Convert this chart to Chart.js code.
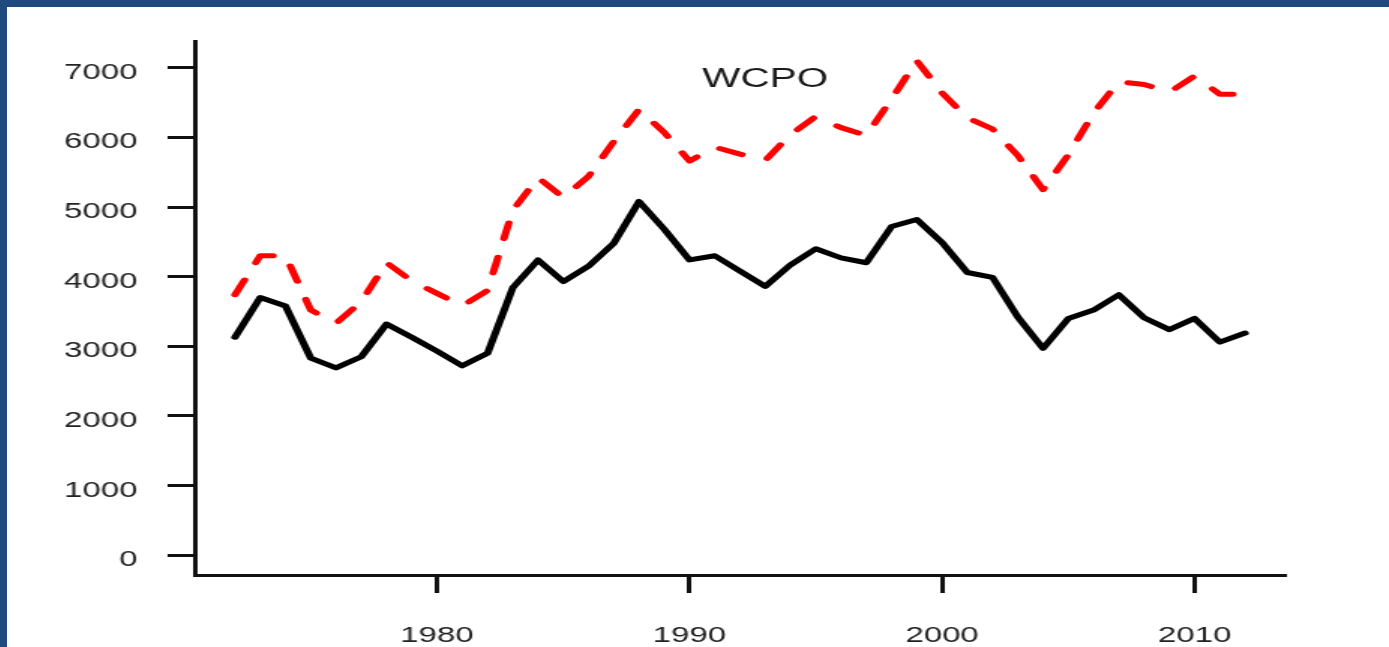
<!DOCTYPE html>
<html>
<head>
<meta charset="utf-8">
<title>WCPO</title>
<script src="https://cdn.jsdelivr.net/npm/chart.js@4.4.1/dist/chart.umd.min.js"></script>
<style>
    html, body { margin: 0; padding: 0; }
    body { width: 1389px; height: 647px; background: #204a7e; overflow: hidden; position: relative; }
    #wrap { position: absolute; left: 7px; top: 7px; width: 1382px; height: 640px; background: #fff; }
    #js--chart { display: block; }
</style>
</head>
<body>
<!-- the picture is stretched sideways, so the canvas is drawn narrow and widened by its inline style -->
<div id="wrap"><canvas id="js--chart" width="921" height="640" style="width:1382px;height:640px;"></canvas></div>
<script>
const years = [
    1972, 1973, 1974, 1975, 1976, 1977, 1978, 1979, 1980, 1981,
    1982, 1983, 1984, 1985, 1986, 1987, 1988, 1989, 1990, 1991,
    1992, 1993, 1994, 1995, 1996, 1997, 1998, 1999, 2000, 2001,
    2002, 2003, 2004, 2005, 2006, 2007, 2008, 2009, 2010, 2011,
    2012
];

// black solid line
const solidLine = [
    3130, 3700, 3580, 2830, 2690, 2850, 3320, 3130, 2930, 2720,
    2900, 3840, 4240, 3930, 4150, 4480, 5080, 4680, 4240, 4300,
    4080, 3860, 4170, 4400, 4270, 4200, 4720, 4820, 4490, 4060,
    3990, 3420, 2970, 3400, 3520, 3740, 3410, 3240, 3400, 3060,
    3190
];

// red dashed line
const dashedLine = [
    3740, 4300, 4300, 3520, 3330, 3640, 4200, 3940, 3760, 3580,
    3800, 4950, 5420, 5140, 5440, 5940, 6400, 6070, 5660, 5860,
    5760, 5670, 6040, 6300, 6140, 6030, 6550, 7100, 6640, 6280,
    6120, 5740, 5250, 5750, 6350, 6800, 6760, 6650, 6880, 6620,
    6620
];

const xTicks = [1980, 1990, 2000, 2010];
const yTicks = [0, 1000, 2000, 3000, 4000, 5000, 6000, 7000];
const panelLabel = "WCPO";

const fontFamily = "'Liberation Sans', Arial, sans-serif";

function toPoints(vals) {
    return vals.map((v, i) => ({ x: years[i], y: v }));
}

const data1 = {
    datasets: [
        {
            label: 'dashed',
            data: toPoints(dashedLine),
            borderColor: '#ff0000',
            borderWidth: 5,
            borderDash: [16, 19],
            borderCapStyle: 'round',
            borderJoinStyle: 'round',
            pointRadius: 0,
            tension: 0
        },
        {
            label: 'solid',
            data: toPoints(solidLine),
            borderColor: '#000000',
            borderWidth: 5,
            borderCapStyle: 'round',
            borderJoinStyle: 'round',
            pointRadius: 0,
            tension: 0
        }
    ]
};

const labelPlugin = {
    id: 'panelLabel',
    afterDraw(chart) {
        const ctx = chart.ctx;
        const x = chart.scales.x.getPixelForValue(1993);
        const y = chart.scales.y.getPixelForValue(6830);
        ctx.save();
        ctx.font = "27px " + fontFamily;
        ctx.fillStyle = '#1a1a1a';
        ctx.textAlign = 'center';
        ctx.textBaseline = 'middle';
        ctx.fillText(panelLabel, x, y);
        ctx.restore();
    }
};

const config1 = {
    type: 'line',
    data: data1,
    plugins: [labelPlugin],
    options: {
        responsive: false,
        animation: false,
        layout: { padding: { top: 34, right: 69, left: 0, bottom: 0 } },
        plugins: {
            legend: { display: false },
            tooltip: { enabled: false }
        },
        scales: {
            x: {
                type: 'linear',
                min: 1970.4,
                max: 2013.6,
                afterBuildTicks: s => { s.ticks = xTicks.map(v => ({ value: v })); },
                afterFit: s => { s.height = 72; },
                grid: { drawOnChartArea: false, drawTicks: true, tickLength: 18, tickWidth: 3, tickColor: '#111' },
                border: { display: true, color: '#111', width: 3 },
                ticks: {
                    autoSkip: false,
                    maxRotation: 0,
                    padding: 30,
                    color: '#222',
                    font: { family: fontFamily, size: 22 },
                    callback: v => String(v)
                }
            },
            y: {
                type: 'linear',
                min: -284,
                max: 7384,
                afterBuildTicks: s => { s.ticks = yTicks.map(v => ({ value: v })); },
                afterFit: s => { s.width = 125; },
                grid: { drawOnChartArea: false, drawTicks: true, tickLength: 18, tickWidth: 3, tickColor: '#111' },
                border: { display: true, color: '#111', width: 3 },
                ticks: {
                    padding: 20,
                    labelOffset: 5,
                    color: '#222',
                    font: { family: fontFamily, size: 22 },
                    callback: v => String(v)
                }
            }
        }
    }
};

new Chart(document.getElementById("js--chart"), config1);
</script>
</body>
</html>
